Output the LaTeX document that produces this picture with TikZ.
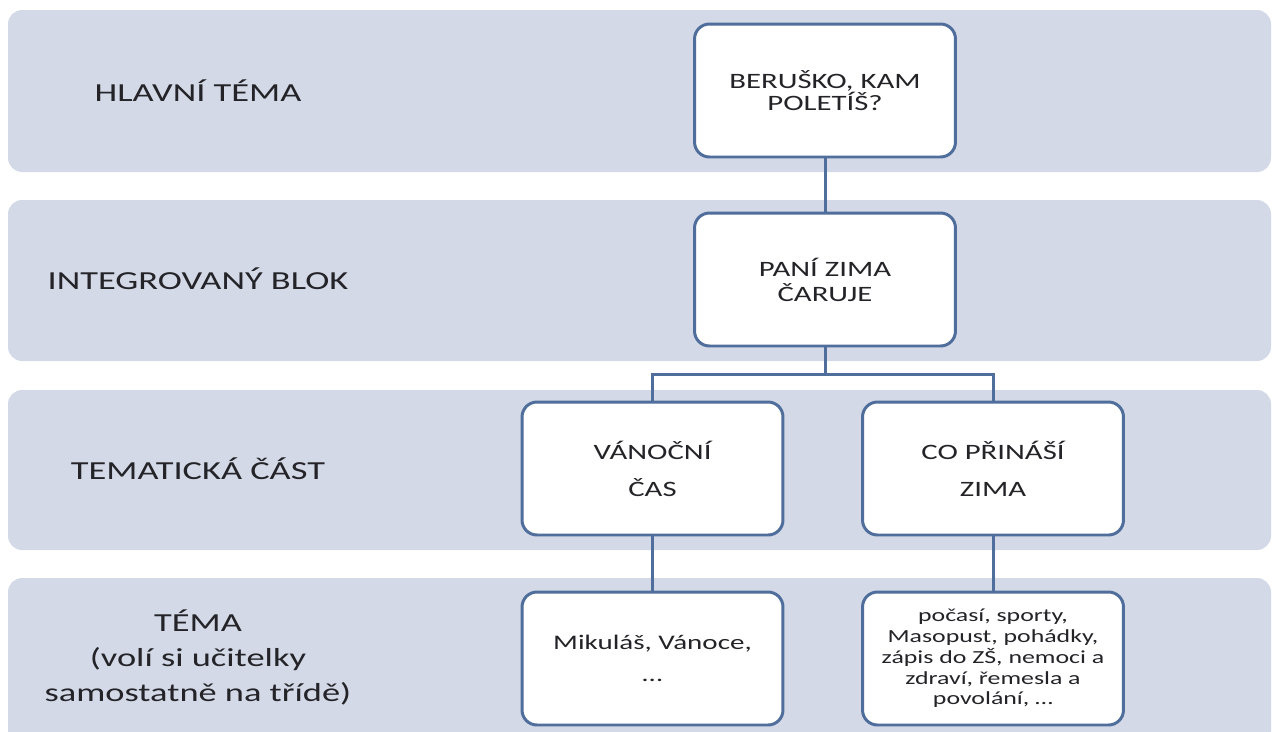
\documentclass[tikz,border=0pt]{standalone}
\usepackage{fontspec}
\setmainfont{Carlito}[FakeStretch=1.4]
\definecolor{bandfill}{RGB}{211,217,231}
\definecolor{boxline}{RGB}{79,110,155}
\definecolor{txtgray}{RGB}{35,35,40}
\begin{document}
\begin{tikzpicture}[x=0.02cm,y=-0.02cm,
  band/.style={fill=bandfill,rounded corners=8pt},
  lbl/.style={align=center,text=txtgray,font=\fontsize{14.8}{19.9}\selectfont},
  topic/.style={draw=boxline,line width=1.7pt,fill=white,rounded corners=8.5pt,
    minimum width=5.22cm,minimum height=2.66cm,align=center,text=txtgray,inner sep=2pt},
  link/.style={draw=boxline,line width=1.7pt}]
\clip (0,0) rectangle (1272,731);
% bands
\fill[band] (8,10) rectangle (1271,172);
\fill[band] (8,200) rectangle (1271,361);
\fill[band] (8,390) rectangle (1271,550);
\fill[band] (8,578) rectangle (1271,745);

% row labels
\node[lbl] (hlavni) at (198,91) {HLAVNÍ TÉMA};
\node[lbl] (blok) at (198,279) {INTEGROVANÝ BLOK};
\node[lbl] (cast) at (198,469) {TEMATICKÁ ČÁST};
\node[lbl] (tema) at (198,657) {TÉMA\\(volí si učitelky\\samostatně na třídě)};

% boxes
\node[topic,font=\fontsize{12.5}{12.3}\selectfont] (berusko) at (825,90.5) {BERUŠKO, KAM\\POLETÍŠ?};
\node[topic,font=\fontsize{12.5}{14.2}\selectfont] (zima) at (825,279.5) {PANÍ ZIMA\\ČARUJE};
\node[topic,font=\fontsize{12.5}{21}\selectfont] (vanoce) at (652.5,468.5) {VÁNOČNÍ\\ČAS};
\node[topic,font=\fontsize{12.5}{21}\selectfont] (prinasi) at (993,468.5) {CO PŘINÁŠÍ\\ZIMA};
\node[topic,font=\fontsize{11.8}{18.2}\selectfont] (mikulas) at (652.5,658.5) {Mikuláš, Vánoce,\\\ldots};
\node[topic,font=\fontsize{10.5}{11.8}\selectfont] (pocasi) at (993,658.5) {počasí, sporty,\\Masopust, pohádky,\\zápis do ZŠ, nemoci a\\zdraví, řemesla a\\povolání, \ldots};

% connectors
\coordinate (fork) at (825,374);
\draw[link] (berusko) -- (zima);
\draw[link] (zima) -- (fork) -| (vanoce);
\draw[link] (fork) -| (prinasi);
\draw[link] (vanoce) -- (mikulas);
\draw[link] (prinasi) -- (pocasi);
\end{tikzpicture}
\end{document}
